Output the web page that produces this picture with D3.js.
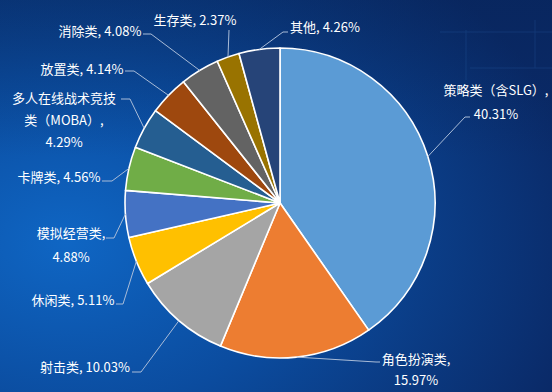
<!DOCTYPE html>
<html><head><meta charset="utf-8">
<script src="https://cdn.jsdelivr.net/npm/d3@7/dist/d3.min.js"></script>
<style>html,body{margin:0;padding:0;background:#0a3a86;}svg{display:block;}</style>
</head><body>
<svg id="chart" width="552" height="392"></svg>
<script>
const categories = ["策略类（含SLG）","角色扮演类","射击类","休闲类","模拟经营类","卡牌类","多人在线战术竞技类（MOBA）","放置类","消除类","生存类","其他"];
const shares = [40.31,15.97,10.03,5.11,4.88,4.56,4.29,4.14,4.08,2.37,4.26];
const colors = ["#5B9BD5","#ED7D31","#A5A5A5","#FFC000","#4472C4","#70AD47","#255E91","#9E480E","#636363","#997300","#264478"];

// label layout: text centre x, first-line centre y, line height, wrap mode, leader start x,y, elbow x
const labelLayout = [
  {x:496, y:90,  lh:24, mode:"two",   sx:470, sy:117, ex:465},
  {x:416, y:359, lh:21, mode:"two",   sx:380, sy:362, ex:376},
  {x:85,  y:367, lh:0,  mode:"one",   sx:132, sy:372, ex:141},
  {x:73,  y:300, lh:0,  mode:"one",   sx:116, sy:304, ex:123},
  {x:71,  y:233, lh:24, mode:"two",   sx:106, sy:238, ex:114},
  {x:59,  y:177, lh:0,  mode:"one",   sx:102, sy:181, ex:112},
  {x:64,  y:98,  lh:22, mode:"three", sx:121, sy:99,  ex:130},
  {x:82,  y:69,  lh:0,  mode:"one",   sx:125, sy:71,  ex:134},
  {x:100, y:31,  lh:0,  mode:"one",   sx:143, sy:34,  ex:151},
  {x:195, y:20,  lh:0,  mode:"one",   sx:229, sy:30,  ex:229},
  {x:325, y:27,  lh:0,  mode:"one",   sx:288, sy:32,  ex:283}
];

const W = 552, H = 392, cx = 280, cy = 203, R = 155;
const svg = d3.select("#chart");
const defs = svg.append("defs");
const g1 = defs.append("radialGradient").attr("id","bg")
  .attr("cx","0.12").attr("cy","0.62").attr("r","0.95");
g1.append("stop").attr("offset","0").attr("stop-color","#0f66c4");
g1.append("stop").attr("offset","0.45").attr("stop-color","#0b4c9f");
g1.append("stop").attr("offset","1").attr("stop-color","#0a2a68");
svg.append("rect").attr("width",W).attr("height",H).attr("fill","url(#bg)");
const g2 = defs.append("linearGradient").attr("id","shade").attr("x1","0").attr("y1","0").attr("x2","0").attr("y2","1");
g2.append("stop").attr("offset","0").attr("stop-color","#06204f").attr("stop-opacity",0.35);
g2.append("stop").attr("offset","0.4").attr("stop-color","#06204f").attr("stop-opacity",0);
svg.append("rect").attr("width",W).attr("height",H).attr("fill","url(#shade)");

// faint decorative tech lines on the right
const deco = svg.append("g").attr("stroke","#3f86d6").attr("stroke-width",1).attr("opacity",0.16);
deco.append("line").attr("x1",535).attr("y1",20).attr("x2",535).attr("y2",68);
deco.append("line").attr("x1",470).attr("y1",68).attr("x2",552).attr("y2",68);
deco.append("line").attr("x1",466).attr("y1",30).attr("x2",466).attr("y2",80);
deco.append("line").attr("x1",440).attr("y1",32).attr("x2",552).attr("y2",32);

const data = categories.map((c,i)=>({name:c, value:shares[i], color:colors[i], lay:labelLayout[i]}));
const pie = d3.pie().sort(null).value(d=>d.value).startAngle(0).endAngle(2*Math.PI);
const arcs = pie(data);
const arc = d3.arc().innerRadius(0).outerRadius(R);
const edge = d3.arc().innerRadius(R).outerRadius(R);

const gp = svg.append("g").attr("transform",`translate(${cx},${cy})`);
gp.selectAll("path").data(arcs).join("path")
  .attr("d",arc).attr("fill",d=>d.data.color)
  .attr("stroke","#ffffff").attr("stroke-width",1.6).attr("stroke-linejoin","round");

// leader lines
svg.append("g").selectAll("polyline").data(arcs).join("polyline")
  .attr("fill","none").attr("stroke","#a9bcd8").attr("stroke-width",1)
  .attr("points",d=>{
    const L = d.data.lay; const p = edge.centroid(d);
    return [[L.sx,L.sy],[L.ex,L.sy],[cx+p[0],cy+p[1]]].map(q=>q.join(",")).join(" ");
  });

function labelLines(d){
  const pct = d.value.toFixed(2)+"%";
  const m = d.lay.mode;
  if(m==="one") return [d.name+", "+pct];
  if(m==="two") return [d.name+",", pct];
  return [d.name.slice(0,8), d.name.slice(8)+",", pct];
}
const tg = svg.append("g").attr("font-family","'Noto Sans CJK SC','Noto Sans',sans-serif")
  .attr("font-size",13).attr("fill","#ffffff").attr("text-anchor","middle");
data.forEach(d=>{
  const lines = labelLines(d);
  const t = tg.append("text");
  lines.forEach((s,i)=>{
    t.append("tspan").attr("x",d.lay.x).attr("y",d.lay.y + i*d.lay.lh).attr("dy","0.35em").text(s);
  });
});
</script>
</body></html>
